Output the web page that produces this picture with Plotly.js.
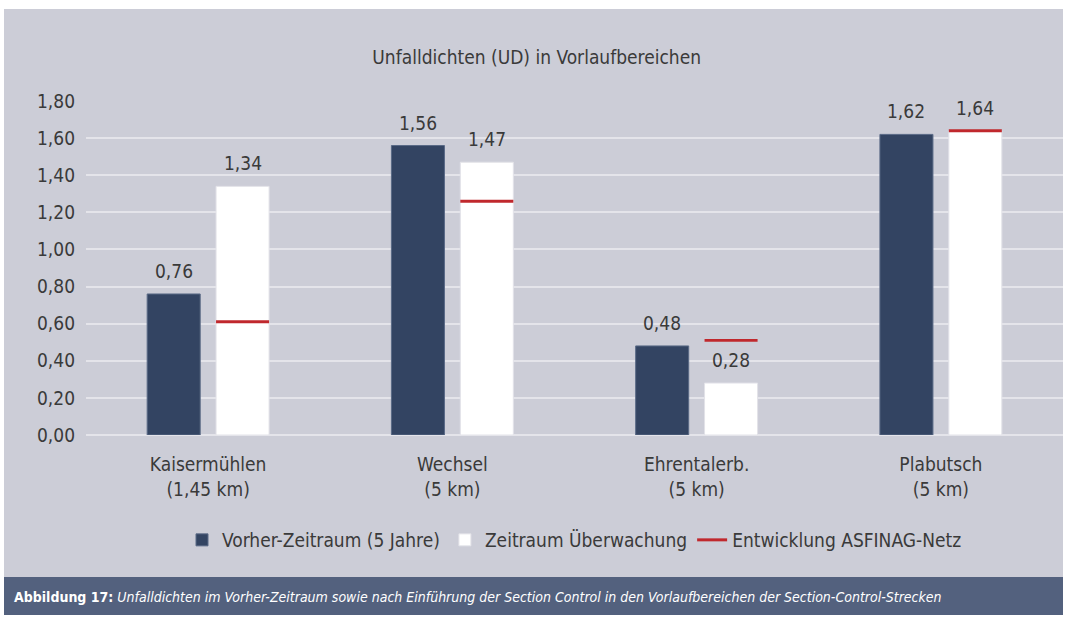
<!DOCTYPE html>
<html>
<head>
<meta charset="utf-8">
<script src="https://cdn.plot.ly/plotly-3.0.1.min.js"></script>
<style>
html,body{margin:0;padding:0;background:#ffffff;}
#chart{width:1067px;height:620px;}
</style>
</head>
<body>
<div id="chart"></div>
<script>
const categories = ["Kaisermühlen<br>(1,45 km)", "Wechsel<br>(5 km)", "Ehrentalerb.<br>(5 km)", "Plabutsch<br>(5 km)"];
const vorher = [0.76, 1.56, 0.48, 1.62];
const ueberwachung = [1.34, 1.47, 0.28, 1.64];
const asfinag = [0.61, 1.26, 0.51, 1.64];
const seriesNames = ["Vorher-Zeitraum (5 Jahre)", "Zeitraum Überwachung", "Entwicklung ASFINAG-Netz"];
const yTicks = [0, 0.2, 0.4, 0.6, 0.8, 1.0, 1.2, 1.4, 1.6, 1.8];

const FONT = "'Liberation Sans Narrow', 'DejaVu Sans Condensed', 'Roboto', sans-serif";
const TXT = "#3a3a3a";
const lineThick = 0.016;

// plot area in pixels: x 86..1063, y 101..435
const L = 86, R = 1063, T = 101, B = 435;
const W = R - L, H = B - T;
const px = x => (x - L) / W;
const py = y => (B - y) / H;

const fmt = v => v.toFixed(2).replace(".", ",");

const traces = [
  {
    type: "bar", name: seriesNames[0], x: categories, y: vorher,
    offsetgroup: "a",
    marker: {color: "#334462", line: {color: "#5a6a86", width: 1}},
    textposition: "none", hoverinfo: "y"
  },
  {
    type: "bar", name: seriesNames[1], x: categories, y: ueberwachung,
    offsetgroup: "b",
    marker: {color: "#ffffff", line: {color: "#e2e2e8", width: 1}},
    textposition: "none", hoverinfo: "y"
  },
  {
    type: "bar", name: seriesNames[2], x: categories,
    y: asfinag.map(() => lineThick),
    base: asfinag.map(v => v - lineThick / 2),
    offsetgroup: "b",
    marker: {color: "#c0282d", line: {width: 0}},
    showlegend: false, textposition: "none", hoverinfo: "skip"
  },
  {
    type: "scatter", mode: "lines", name: seriesNames[2],
    x: [null], y: [null],
    line: {color: "#c0282d", width: 3},
    hoverinfo: "skip"
  }
];

// value labels placed over each bar through the axis scale
const valueLabels = [];
categories.forEach((c, i) => {
  valueLabels.push({x: c, y: vorher[i], xref: "x", yref: "y", xshift: -34.5, yshift: 23,
    text: fmt(vorher[i]), showarrow: false, yanchor: "middle",
    font: {family: FONT, size: 19, color: TXT}});
  valueLabels.push({x: c, y: ueberwachung[i], xref: "x", yref: "y", xshift: 34.5, yshift: 23,
    text: fmt(ueberwachung[i]), showarrow: false, yanchor: "middle",
    font: {family: FONT, size: 19, color: TXT}});
});

const layout = {
  width: 1067, height: 620,
  margin: {l: L, r: 1067 - R, t: T, b: 620 - B, pad: 0},
  paper_bgcolor: "#ffffff",
  plot_bgcolor: "rgba(0,0,0,0)",
  separators: ",.",
  font: {family: FONT, color: TXT, size: 18},
  title: {
    text: "Unfalldichten (UD) in Vorlaufbereichen",
    font: {family: FONT, size: 19, color: TXT},
    xref: "container", x: 0.503, xanchor: "center",
    yref: "container", y: 1 - 57 / 620, yanchor: "middle"
  },
  barmode: "group",
  bargap: 0.436,
  bargroupgap: 0.23,
  showlegend: true,
  legend: {
    orientation: "h", x: 0.5, xanchor: "center",
    y: py(540), yanchor: "middle",
    font: {family: FONT, size: 19, color: TXT},
    bgcolor: "rgba(0,0,0,0)",
    itemwidth: 30, traceorder: "normal"
  },
  xaxis: {
    type: "category",
    showgrid: false, zeroline: false, showline: false,
    ticks: "", ticklabelstandoff: 16,
    tickfont: {family: FONT, size: 19, color: TXT},
    fixedrange: true
  },
  yaxis: {
    range: [0, 1.8],
    tickvals: yTicks, tickformat: ".2f",
    showgrid: true, gridcolor: "#e4e4ea", gridwidth: 2,
    zeroline: true, zerolinecolor: "#e4e4ea", zerolinewidth: 2,
    showline: false, ticks: "",
    ticklabelstandoff: 10,
    tickfont: {family: FONT, size: 19, color: TXT},
    fixedrange: true
  },
  shapes: [
    {type: "rect", xref: "paper", yref: "paper", layer: "below",
     x0: px(4), x1: px(1063), y0: py(577), y1: py(9),
     fillcolor: "#cccdd7", line: {width: 0}},
    {type: "rect", xref: "paper", yref: "paper", layer: "below",
     x0: px(4), x1: px(1063), y0: py(615), y1: py(577),
     fillcolor: "#53617e", line: {width: 0}}
  ],
  annotations: valueLabels.concat([
    {xref: "paper", yref: "paper", x: px(12), y: py(597),
     xanchor: "left", yanchor: "middle", showarrow: false,
     text: "<b>Abbildung 17:</b> <i>Unfalldichten im Vorher-Zeitraum sowie nach Einführung der Section Control in den Vorlaufbereichen der Section-Control-Strecken</i>",
     font: {family: FONT, size: 14, color: "#ffffff"}}
  ])
};

Plotly.newPlot("chart", traces, layout, {displayModeBar: false, staticPlot: true});
</script>
</body>
</html>
